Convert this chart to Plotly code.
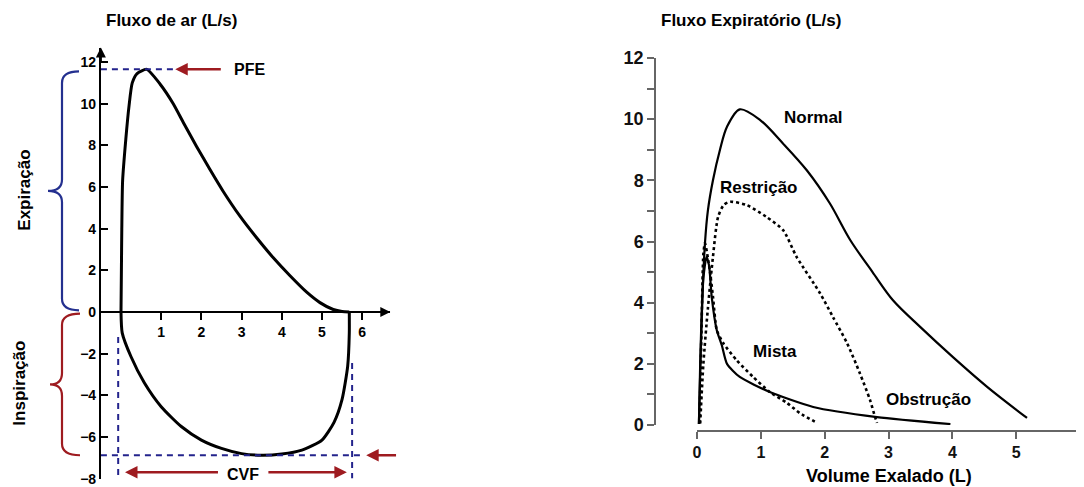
import plotly.graph_objects as go

# ---------------- data: left panel (flow-volume loop) ----------------
exp_volume = [0.0, 0.01, 0.02, 0.04, 0.12, 0.2, 0.28, 0.4, 0.64, 0.97, 1.3, 1.55, 1.88, 2.21,
              2.54, 2.96, 3.38, 3.79, 4.2, 4.62, 4.95, 5.28, 5.5, 5.68]
exp_flow = [0.0, 2.0, 4.0, 6.3, 8.3, 9.9, 11.0, 11.45, 11.65, 10.95, 10.0, 9.1, 7.95, 6.85,
            5.8, 4.6, 3.55, 2.6, 1.75, 0.95, 0.45, 0.12, 0.02, 0.0]
insp_volume = [5.68, 5.68, 5.64, 5.5, 5.3, 5.0, 4.5, 4.0, 3.5, 3.0, 2.5, 2.0, 1.5, 1.0, 0.58,
               0.25, 0.03, 0.0]
insp_flow = [0.0, -1.0, -2.6, -4.2, -5.3, -6.15, -6.63, -6.82, -6.88, -6.8, -6.55, -6.15, -5.5,
             -4.55, -3.4, -2.15, -1.0, 0.0]
left_xticks = [1, 2, 3, 4, 5, 6]
left_yticks = [-8, -6, -4, -2, 0, 2, 4, 6, 8, 10, 12]

# ---------------- data: right panel (expiratory curves) ----------------
normal_volume = [0.03, 0.05, 0.08, 0.125, 0.17, 0.25, 0.36, 0.47, 0.67, 0.99, 1.35, 1.72, 2.08,
                 2.4, 2.75, 3.07, 3.5, 4.01, 4.55, 5.17]
normal_flow = [0.03, 2.0, 4.0, 5.95, 7.0, 8.0, 9.0, 9.75, 10.32, 9.97, 9.2, 8.33, 7.25,
               6.05, 5.0, 4.08, 3.2, 2.22, 1.24, 0.23]
restr_volume = [0.05, 0.1, 0.17, 0.25, 0.33, 0.42, 0.52, 0.78, 1.09, 1.35, 1.56, 1.93, 2.13,
                2.35, 2.55, 2.71, 2.79, 2.82]
restr_flow = [0.05, 2.0, 3.8, 5.5, 6.8, 7.2, 7.3, 7.19, 6.8, 6.37, 5.5, 4.3, 3.53,
              2.68, 1.7, 0.82, 0.26, 0.07]
mixed_volume = [0.04, 0.07, 0.1, 0.125, 0.2, 0.25, 0.31, 0.41, 0.62, 0.88, 1.14, 1.41, 1.61, 1.88]
mixed_flow = [0.05, 3.0, 5.6, 5.95, 5.06, 4.2, 3.1, 2.68, 2.12, 1.57, 1.08, 0.72, 0.39, 0.07]
obstr_volume = [0.03, 0.06, 0.1, 0.15, 0.19, 0.23, 0.31, 0.39, 0.47, 0.67, 1.14, 1.82, 2.82, 3.97]
obstr_flow = [0.03, 2.5, 4.8, 5.5, 5.2, 4.2, 3.1, 2.6, 2.0, 1.57, 1.08, 0.59, 0.26, 0.03]
right_xticks = [0, 1, 2, 3, 4, 5, 6]
right_yticks = list(range(0, 13))
right_ylabels = [str(v) if v % 2 == 0 else "" for v in right_yticks]

curve_labels = {"Normal": (1.82, 10.07), "Restrição": (0.96, 7.78),
                "Mista": (1.22, 2.39), "Obstrução": (3.62, 0.82)}

# ---------------- layout geometry ----------------
# the page body has an 8px margin, so the figure is placed at (8, 8) in the window
OFF = 8
FW, FH = 1084 - OFF, 487 - OFF


def px_x(p):
    return (p - OFF) / FW


def px_y(p):
    return 1 - (p - OFF) / FH


FONT = "Liberation Sans"
NAVY = "#23238c"
RED = "#9e1b20"
BRACE_BLUE = "#24308f"

L_XR = [-0.5, 6.7]
L_YR = [-8, 12.7]
L_XDOM = [px_x(100.9), px_x(390.3)]
L_YDOM = [px_y(478.6), px_y(47.5)]
x_axis_pos = L_YDOM[0] + (0 - L_YR[0]) / (L_YR[1] - L_YR[0]) * (L_YDOM[1] - L_YDOM[0])

R_XDOM = [px_x(697), px_x(1080)]
R_YDOM = [px_y(425), px_y(58)]

PFE = max(exp_flow)
PFI = min(insp_flow)
CVF = max(exp_volume)

fig = go.Figure()

line_l = dict(color="black", width=3, shape="spline", smoothing=0.6)
fig.add_trace(go.Scatter(x=exp_volume, y=exp_flow, mode="lines", line=line_l,
                         xaxis="x", yaxis="y", hoverinfo="skip"))
fig.add_trace(go.Scatter(x=insp_volume, y=insp_flow, mode="lines", line=line_l,
                         xaxis="x", yaxis="y", hoverinfo="skip"))

for xs, ys, dash, sm in [(normal_volume, normal_flow, "solid", 0.9),
                         (restr_volume, restr_flow, "dot", 0.7),
                         (mixed_volume, mixed_flow, "dot", 0.6),
                         (obstr_volume, obstr_flow, "solid", 0.6)]:
    fig.add_trace(go.Scatter(x=xs, y=ys, mode="lines",
                             line=dict(color="black", width=2.2 if dash == "solid" else 2.6,
                                       dash=dash, shape="spline", smoothing=sm),
                             xaxis="x2", yaxis="y2", hoverinfo="skip"))

shapes = []
dash_style = dict(color=NAVY, width=2, dash="6px,5px")
# PFE / PFI horizontal dashed lines, CVF vertical dashed lines
shapes.append(dict(type="line", xref="x", yref="y", x0=L_XR[0], x1=1.3, y0=PFE, y1=PFE, line=dash_style))
shapes.append(dict(type="line", xref="x", yref="y", x0=L_XR[0], x1=CVF + 0.38, y0=PFI, y1=PFI, line=dash_style))
shapes.append(dict(type="line", xref="x", yref="y", x0=-0.07, x1=-0.07, y0=-1.2, y1=L_YR[0], line=dash_style))
shapes.append(dict(type="line", xref="x", yref="y", x0=CVF + 0.07, x1=CVF + 0.07, y0=-2.45, y1=L_YR[0], line=dash_style))


def brace(y_top, y_bot, x_end, x_mid, x_tip, r, color):
    yc = (y_top + y_bot) / 2
    p = (f"M {x_end},{y_top} Q {x_mid},{y_top} {x_mid},{y_top - r} "
         f"L {x_mid},{yc + r} Q {x_mid},{yc} {x_tip},{yc} "
         f"Q {x_mid},{yc} {x_mid},{yc - r} "
         f"L {x_mid},{y_bot + r} Q {x_mid},{y_bot} {x_end},{y_bot}")
    return dict(type="path", xref="paper", yref="y", path=p,
                line=dict(color=color, width=2.2))


shapes.append(brace(PFE - 0.1, 0.08, px_x(79), px_x(62), px_x(48), 0.55, BRACE_BLUE))
shapes.append(brace(-0.08, PFI, px_x(80), px_x(62), px_x(50), 0.55, RED))

annotations = []


def arrow(x, y, ax, ay, color, width=2.5, size=1.0, xref="x", yref="y"):
    annotations.append(dict(x=x, y=y, ax=ax, ay=ay, xref=xref, yref=yref, axref=xref, ayref=yref,
                            text="", showarrow=True, arrowhead=2, arrowsize=size,
                            arrowwidth=width, arrowcolor=color, standoff=0, startstandoff=0))


# axis arrows of the left panel
arrow(L_XR[1], 0, L_XR[1] - 0.4, 0, "black", width=2, size=1.0)
arrow(L_XR[0], L_YR[1], L_XR[0], L_YR[1] - 0.8, "black", width=2, size=1.0)
# PFE, PFI, CVF arrows
arrow(1.35, PFE, 2.52, PFE, RED)
arrow(6.1, PFI, 6.88, PFI, RED)
arrow(0.1, -7.7, 2.45, -7.7, RED)
arrow(5.62, -7.7, 3.63, -7.7, RED)


def text(t, x, y, size=17, xref="x", yref="y", xanchor="center", angle=0, color="black"):
    annotations.append(dict(text=t, x=x, y=y, xref=xref, yref=yref, xanchor=xanchor, yanchor="middle",
                            showarrow=False, textangle=angle,
                            font=dict(family=FONT, size=size, color=color, weight="bold")))


text("PFE", 2.76, PFE, size=16, xanchor="left")
text("PFI", 7.12, PFI, size=16, xanchor="left")
text("CVF", 3.03, -7.8, size=16)
text("Volume (L)", 7.12, 0, size=17, xanchor="left")
text("Expiração", px_x(25), PFE / 2, size=17, xref="paper", angle=-90)
text("Inspiração", px_x(20), PFI / 2, size=17, xref="paper", angle=-90)
text("Fluxo de ar (L/s)", px_x(171), px_y(20), size=17, xref="paper", yref="paper")
text("Fluxo Expiratório (L/s)", px_x(751), px_y(20), size=17, xref="paper", yref="paper")
text("Volume Exalado (L)", (R_XDOM[0] + R_XDOM[1]) / 2, px_y(476), size=18, xref="paper", yref="paper")
for name, (vx, vy) in curve_labels.items():
    text(name, vx, vy, size=17, xref="x2", yref="y2")

tickfont_l = dict(family=FONT, size=14, color="black", weight="bold")
tickfont_r = dict(family=FONT, size=18, color="#111", weight="bold")

fig.update_layout(
    template="none",
    width=FW, height=FH, margin=dict(l=0, r=0, t=0, b=0, pad=0, autoexpand=False),
    paper_bgcolor="white", plot_bgcolor="white", showlegend=False,
    shapes=shapes, annotations=annotations,
    xaxis=dict(domain=L_XDOM, range=L_XR, anchor="free", position=x_axis_pos, automargin=False,
               showline=True, linecolor="black", linewidth=2, ticks="outside", ticklen=7,
               tickwidth=2, tickcolor="black", tickvals=left_xticks, tickfont=tickfont_l,
               showgrid=False, zeroline=False, fixedrange=True),
    yaxis=dict(domain=L_YDOM, range=L_YR, anchor="x", showline=True, linecolor="black", automargin=False,
               linewidth=2, ticks="inside", ticklen=7, tickwidth=2, tickcolor="black",
               tickvals=left_yticks, tickfont=tickfont_l, showgrid=False, zeroline=False,
               fixedrange=True),
    xaxis2=dict(domain=R_XDOM, range=[0, 6], anchor="free", position=px_y(431), automargin=False,
                showline=True, linecolor="#666", linewidth=1.5, ticks="outside", ticklen=7,
                tickwidth=1.5, tickcolor="#666", tickvals=right_xticks,
                tickfont=dict(family=FONT, size=16, color="#111", weight="bold"),
                showgrid=False, zeroline=False, fixedrange=True),
    yaxis2=dict(domain=R_YDOM, range=[0, 12], anchor="free", position=px_x(655), automargin=False,
                showline=True, linecolor="#666", linewidth=1.5, ticks="outside", ticklen=7,
                tickwidth=1.5, tickcolor="#666", tickvals=right_yticks, ticktext=right_ylabels,
                tickfont=tickfont_r, showgrid=False, zeroline=False, fixedrange=True),
)

fig.write_html("out.html")
